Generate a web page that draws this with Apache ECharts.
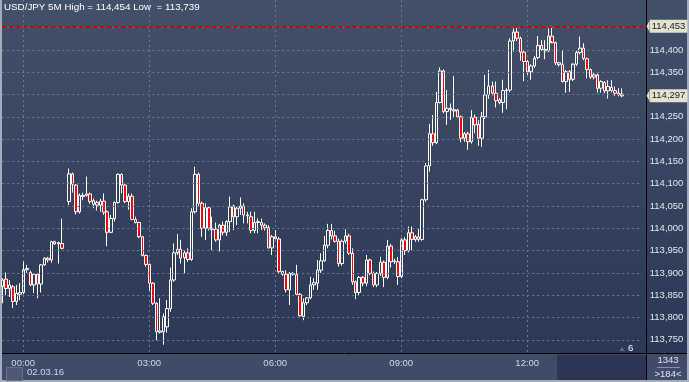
<!DOCTYPE html>
<html><head><meta charset="utf-8">
<script src="https://cdn.jsdelivr.net/npm/echarts@6/dist/echarts.min.js"></script>
<style>html,body{margin:0;padding:0;background:#a3acbc;overflow:hidden}#c{width:689px;height:382px}</style>
</head><body><div id="c"></div>
<script>
// ---- data ----
const startHour = 23, startMinute = 30, stepMinutes = 5, barCount = 184;
const hourLabels = ['00:00', '03:00', '06:00', '09:00', '12:00'];
const open = [113870,113886,113865,113869,113836,113852,113856,113907,113901,113873,113897,113875,113918,113933,113929,113970,113965,113966,null,114060,
114122,114097,114037,114071,114074,114077,114054,114058,114052,114061,114037,113991,114022,114058,114121,114097,114060,114072,114020,114013,
113981,113939,113919,113877,113832,113767,113768,113779,113820,113884,113945,113953,113934,113945,113930,114037,114121,114056,114000,114046,
114000,113998,113974,114007,113991,114015,114050,114026,114045,114050,114030,114026,113995,114013,114013,114007,114002,113956,113981,113976,
113903,113897,113862,113899,113896,113852,113802,113833,113844,113873,113877,113906,113927,113962,113995,113983,113971,113921,113971,113983,
113944,113880,113856,113890,113877,113929,113899,113873,113899,113924,113890,113960,113925,113925,113892,113974,113950,113990,113975,113981,
113975,114064,114140,114212,114192,114282,114353,114262,114269,114266,114265,114250,114202,114212,114194,114249,114233,114202,114250,114299,
114319,114303,114288,114282,114309,114310,114420,114440,114426,114395,114374,114351,114364,114383,114410,114398,114398,114431,114416,114371,
114367,114329,114351,114334,114368,114394,114404,114380,114356,114339,114344,114314,114327,114308,114316,114309,114303,114301];
const high = [113888,113901,113884,113873,113873,113877,113925,113918,113905,113899,113899,113920,113935,113936,113972,113972,113970,114022,null,114134,
114125,114099,114078,114080,114116,114080,114067,114062,114066,114078,114040,114030,114060,114123,114123,114100,114078,114078,114026,114015,
113983,113941,113921,113879,113834,113843,113809,113839,113912,113966,113987,113974,113950,113955,114045,114138,114125,114060,114056,114050,
114026,114013,114010,114015,114018,114071,114053,114048,114069,114056,114037,114037,114037,114022,114022,114011,114007,113985,113996,113980,
113905,113906,113902,113902,113918,113855,113843,113846,113891,113888,113929,113944,113983,114010,114010,113995,113977,113975,113998,113988,
113955,113883,113893,113893,113940,113932,113903,113902,113936,113928,113974,113965,113932,113936,113978,113980,114004,114004,113985,113998,
114066,114146,114234,114254,114306,114361,114356,114310,114280,114341,114268,114253,114216,114217,114265,114255,114243,114261,114344,114355,
114329,114329,114292,114333,114314,114426,114448,114451,114430,114400,114377,114368,114386,114431,114422,114422,114448,114454,114419,114373,
114400,114355,114355,114370,114398,114430,114415,114383,114358,114348,114347,114332,114330,114332,114332,114318,114314,114314];
const low = [113832,113850,113846,113821,113828,113839,113852,113900,113870,113855,113843,113856,113916,113923,113923,113963,113921,113953,null,114052,
114080,114031,114033,114063,114071,114055,114045,114040,114037,114030,113960,113989,114015,114055,114078,114056,114042,114018,114011,113978,
113937,113914,113860,113828,113749,113764,113739,113766,113813,113880,113940,113921,113899,113925,113927,114033,114048,113981,113974,113995,
113951,113970,113948,113984,113983,113992,113996,114007,114030,114011,114011,113989,113989,113989,113996,113995,113955,113940,113975,113898,
113893,113856,113828,113894,113850,113802,113794,113828,113841,113862,113862,113900,113925,113955,113975,113968,113914,113916,113966,113940,
113873,113841,113850,113870,113870,113895,113868,113868,113893,113868,113886,113912,113920,113873,113888,113940,113946,113951,113970,113970,
113972,114060,114127,114185,114189,114280,114258,114232,114243,114250,114248,114193,114194,114176,114190,114213,114185,114183,114245,114290,
114298,114271,114278,114259,114267,114305,114396,114420,114376,114330,114344,114333,114360,114379,114398,114379,114395,114420,114366,114363,
114327,114304,114306,114330,114364,114390,114377,114336,114335,114334,114304,114304,114303,114291,114305,114297,114296,114294];
const close = [113884,113865,113873,113836,113854,113856,113907,113910,113873,113897,113875,113918,113933,113929,113970,113965,113968,113955,null,114122,
114099,114037,114074,114074,114077,114060,114062,114052,114061,114036,113991,114022,114058,114121,114097,114060,114072,114020,114013,113981,
113939,113919,113877,113832,113768,113770,113802,113820,113884,113945,113953,113933,113945,113930,114037,114121,114056,114000,114046,114000,
113997,113974,114007,113991,114015,114048,114026,114045,114050,114030,114028,113995,114013,114015,114007,114001,113956,113981,113977,113903,
113897,113862,113899,113897,113852,113804,113833,113844,113873,113878,113906,113927,113962,113995,113983,113971,113921,113971,113983,113944,
113880,113856,113890,113877,113929,113899,113873,113899,113924,113890,113960,113925,113927,113892,113974,113950,113990,113975,113981,113975,
114064,114140,114212,114192,114282,114353,114262,114269,114266,114263,114250,114202,114212,114194,114249,114232,114202,114250,114299,114319,
114303,114286,114282,114309,114310,114420,114440,114426,114395,114374,114351,114364,114381,114410,114401,114401,114431,114416,114371,114367,
114329,114351,114334,114368,114394,114404,114381,114356,114339,114344,114314,114329,114308,114318,114309,114303,114300,114297];
const yLabelValues = [113750,113800,113850,113900,113950,114000,114050,114100,114150,114200,114250,114350,114400];
const gridValues = [113750,113800,113850,113900,113950,114000,114050,114100,114150,114200,114250,114300,114350,114400,114450];
const highLine = 114453;
const lastPrice = 114297;
const titleText = 'USD/JPY 5M High = 114,454 Low  = 113,739';
const dateText = '02.03.16';
const barsTotal = '1343', barsShown = '>184<', cornerNum = '6';

// ---- build ----
const cats = [];
for (let k = 0; k < barCount; k++) {
  const m = (startHour * 60 + startMinute + k * stepMinutes) % 1440;
  cats.push(String(Math.floor(m / 60)).padStart(2, '0') + ':' + String(m % 60).padStart(2, '0'));
}
const candleData = cats.map((c, i) => (i < open.length && open[i] != null) ? [open[i], close[i], low[i], high[i]] : '-');
const fmt = v => { const s = String(Math.round(v)); return s.slice(0, 3) + ',' + s.slice(3); };
const FONT = '"Liberation Sans", Arial, sans-serif';
const isHour = (i, v) => hourLabels.indexOf(v) >= 0;
const TAG_BG = '#e2e2cf';

const chart = echarts.init(document.getElementById('c'), null, { renderer: 'canvas' });
const tagLabel = (txt) => ({
  show: true, position: 'end', distance: 7, formatter: txt,
  backgroundColor: TAG_BG, color: '#1c1c1c', padding: [2, 2, 1, 2],
  fontSize: 9.5, fontFamily: FONT
});
const bgGrad = () => new echarts.graphic.LinearGradient(0, 0, 0, 1, [{ offset: 0, color: '#425069' }, { offset: 1, color: '#2b3856' }]);
const staticGraphics = [
  { type: 'rect', z: -10, shape: { x: 2, y: 0, width: 644, height: 353 }, style: { fill: bgGrad() } },
  { type: 'rect', z: -10, shape: { x: 647, y: 0, width: 40, height: 353 }, style: { fill: bgGrad() } },
  { type: 'rect', z: -10, shape: { x: 2, y: 354, width: 644, height: 26 }, style: { fill: '#3f4c67' } },
  { type: 'rect', z: -10, shape: { x: 647, y: 354, width: 40, height: 26 }, style: { fill: '#3f4c67' } },
  { type: 'rect', z: -9, shape: { x: 557, y: 355, width: 89, height: 25 }, style: { fill: '#2b3652' } },
  { type: 'rect', z: -9, shape: { x: 6.5, y: 367.5, width: 16, height: 13 }, style: { fill: '#4e5a72', stroke: '#66728b', lineWidth: 1 } },
  { type: 'line', z: 50, shape: { x1: 646.5, y1: 0, x2: 646.5, y2: 380 }, style: { stroke: '#000000', lineWidth: 1 } },
  { type: 'line', z: 50, shape: { x1: 2, y1: 353.5, x2: 687, y2: 353.5 }, style: { stroke: '#000000', lineWidth: 1 } },
  { type: 'line', z: 50, shape: { x1: 657, y1: 367.5, x2: 680, y2: 367.5 }, style: { stroke: '#8791a6', lineWidth: 1 } },
  { type: 'text', z: 50, x: 4, y: 2, style: { text: titleText, fill: '#ffffff', font: '9.8px ' + FONT } },
  { type: 'text', z: 50, x: 27, y: 367, style: { text: dateText, fill: '#cdd8ee', font: '9.5px ' + FONT } },
  { type: 'text', z: 50, x: 668, y: 355.5, style: { text: barsTotal, fill: '#dfe5f0', font: '9.5px ' + FONT, align: 'center' } },
  { type: 'text', z: 50, x: 668, y: 369.5, style: { text: barsShown, fill: '#dfe5f0', font: '9.5px ' + FONT, align: 'center' } },
  { type: 'text', z: 50, x: 628, y: 343.5, style: { text: cornerNum, fill: '#ffffff', font: '9.5px ' + FONT } },
  { type: 'polygon', z: 50, shape: { points: [[619, 351], [625, 351], [622, 347]] }, style: { fill: '#5d6985' } }
];
chart.setOption({
  animation: false,
  grid: { left: 2.25, width: 640.5, top: 0, height: 353, containLabel: false },
  xAxis: {
    type: 'category', data: cats, boundaryGap: false,
    axisLine: { show: false }, axisTick: { show: false },
    axisLabel: { interval: isHour, color: '#cdd8ee', fontSize: 9.5, fontFamily: FONT, margin: 5 },
    splitLine: { show: true, interval: isHour, lineStyle: { color: '#6e7b96', type: [2, 3], width: 1 } }
  },
  yAxis: {
    type: 'value', position: 'right', min: 113720.4, max: 114511.9, scale: true,
    axisLine: { show: false }, axisTick: { show: false }, splitLine: { show: false },
    axisLabel: { customValues: yLabelValues, formatter: fmt, color: '#e2e7f1', fontSize: 9.5, fontFamily: FONT, margin: 7 }
  },
  graphic: staticGraphics,
  series: [
    {
      type: 'line', z: 1, data: cats.map(() => '-'), silent: true, symbol: 'none',
      markLine: {
        silent: true, symbol: 'none', animation: false,
        label: { show: false },
        lineStyle: { color: '#6e7b96', type: [2, 3], width: 1 },
        data: gridValues.map(v => ({ yAxis: v }))
      }
    },
    {
      type: 'candlestick', z: 3, data: candleData, barWidth: 3,
      itemStyle: { color: 'transparent', color0: '#ff0000', borderColor: '#ffffff', borderColor0: '#ffffff', borderWidth: 1 },
      markLine: {
        silent: true, symbol: 'none', animation: false,
        data: [
          { yAxis: highLine, lineStyle: { color: '#d60000', type: [4, 3], width: 2 }, label: tagLabel(fmt(highLine)) },
          { yAxis: lastPrice, lineStyle: { color: 'rgba(0,0,0,0)', width: 1 }, label: tagLabel(fmt(lastPrice)) }
        ]
      }
    }
  ]
});
// small arrow heads on the price tags, placed through the y scale
const arrows = [highLine, lastPrice].map(v => {
  const y = chart.convertToPixel({ yAxisIndex: 0 }, v);
  return { type: 'polygon', z: 60, shape: { points: [[649.5, y - 5.5], [649.5, y + 5.5], [646.5, y]] }, style: { fill: TAG_BG } };
});
chart.setOption({ graphic: staticGraphics.concat(arrows) });
</script></body></html>
